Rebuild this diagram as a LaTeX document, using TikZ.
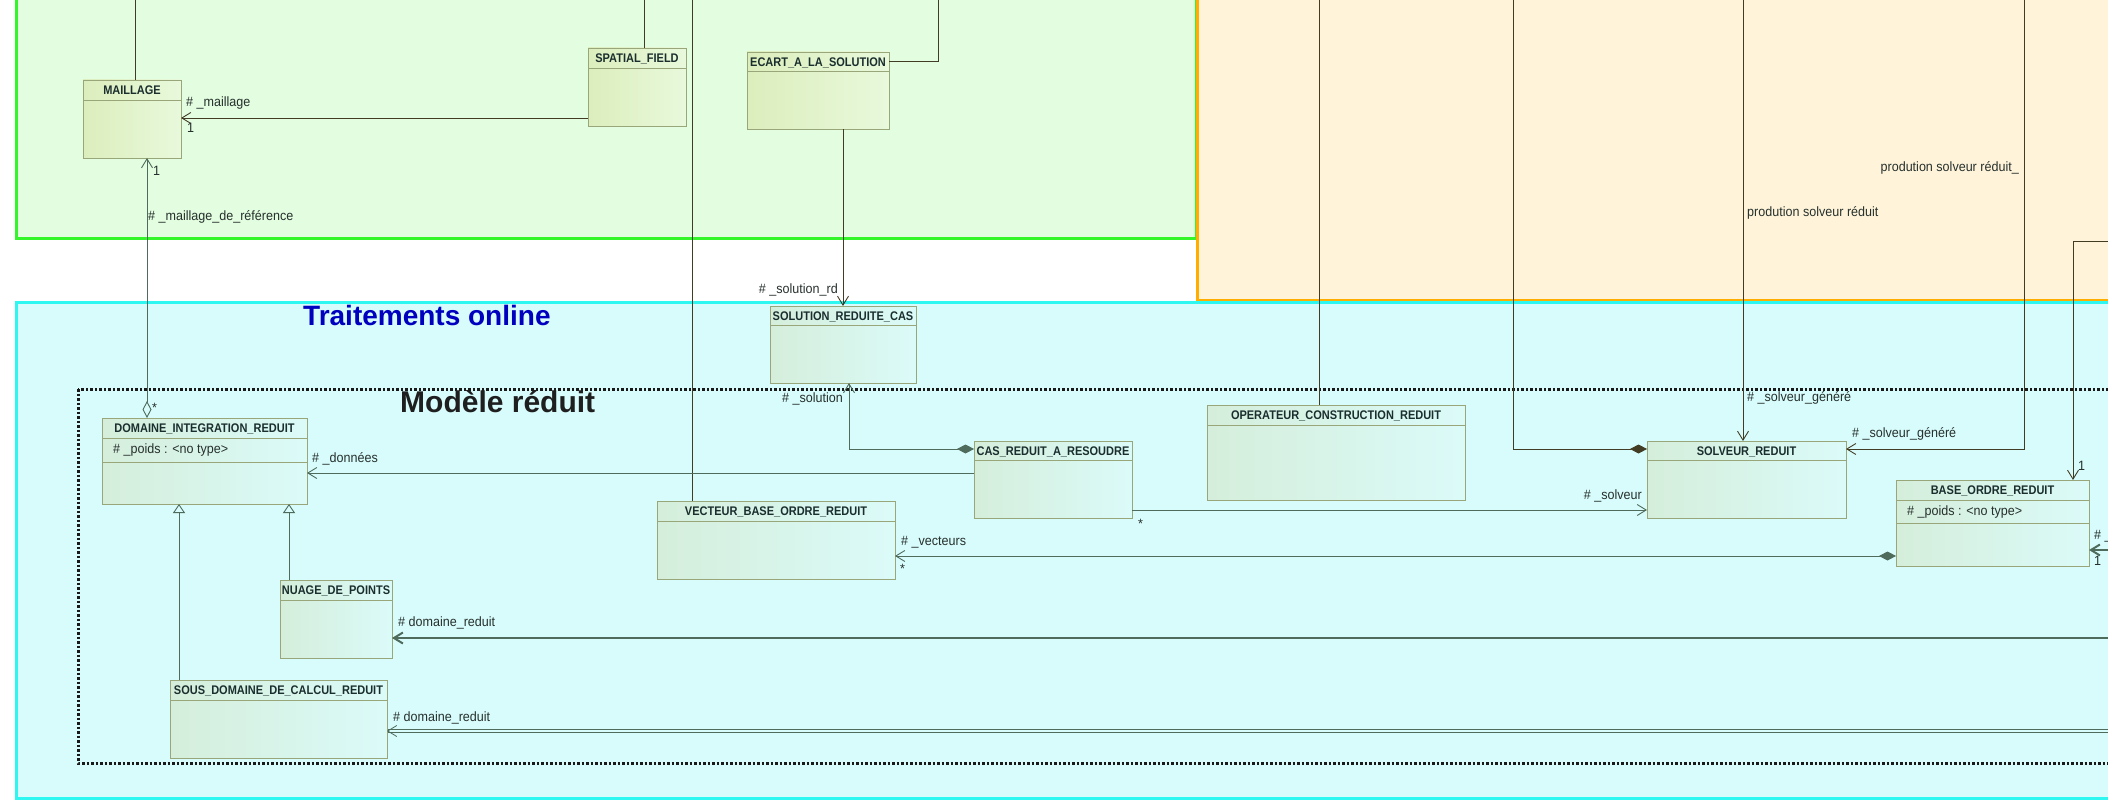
\documentclass[tikz,border=0pt]{standalone}
\usepackage{fontspec}
\setmainfont{Liberation Sans}
\newfontfamily\umlfont{Liberation Sans}[FakeStretch=0.88]
\newfontfamily\rolefont{Liberation Sans}[FakeStretch=0.93]
\usepackage{tikz}
\usetikzlibrary{arrows.meta, positioning}

\definecolor{offlinefill}{HTML}{E3FDE0}
\definecolor{offlineedge}{HTML}{33F52A}
\definecolor{prodfill}{HTML}{FFF4DA}
\definecolor{prodedge}{HTML}{FFAE00}
\definecolor{onlinefill}{HTML}{D8FCFC}
\definecolor{onlineedge}{HTML}{2EF7F2}
\definecolor{boxGL}{HTML}{DCEEBC}
\definecolor{boxGR}{HTML}{E8F9DC}
\definecolor{boxCL}{HTML}{D5EEDB}
\definecolor{boxCR}{HTML}{DBFBF9}
\definecolor{boxedge}{HTML}{98A67A}
\definecolor{nametext}{HTML}{1A2E2E}
\definecolor{roletext}{HTML}{26302C}
\definecolor{linkC}{HTML}{4E6B5C}
\definecolor{linkG}{HTML}{433C24}
\definecolor{titleblue}{HTML}{0000BE}

\begin{document}
\begin{tikzpicture}[x=1pt, y=-1pt, >={Straight Barb[length=9pt,width=11pt]},
    classbox/.style={anchor=north west, inner sep=0pt, outer sep=0pt, draw=boxedge, line width=0.9pt},
    offline/.style={classbox, left color=boxGL, right color=boxGR},
    online/.style={classbox, left color=boxCL, right color=boxCR},
    compartment/.style={draw=boxedge, line width=0.9pt},
    classname/.style={font=\umlfont\bfseries\fontsize{12.5}{14}\selectfont, text=nametext,
                      inner sep=0pt, text height=9pt, text depth=2.5pt},
    role/.style={font=\rolefont\fontsize{13.5}{15}\selectfont, text=roletext, inner sep=0pt},
    link/.style={draw=linkC, line width=0.9pt},
    toplink/.style={draw=linkG, line width=0.9pt}]
  \clip (0,0) rectangle (2108,810);

  % Packages
  \fill[offlinefill] (16,-20) rectangle (1196,239);
  \draw[offlineedge, line width=3pt] (16,-20) rectangle (1196,239);
  \fill[prodfill] (1197,-20) rectangle (2130,300);
  \draw[prodedge, line width=3pt] (1197,-20) rectangle (2130,300);
  \fill[onlinefill] (16,302) rectangle (2130,798);
  \draw[onlineedge, line width=3pt] (16,302) rectangle (2130,798);
  \node[font=\bfseries\fontsize{28}{30}\selectfont, text=titleblue, inner sep=0pt, anchor=base west]
    (online-title) at (303,325) {Traitements online};
  \draw[black!90, line width=3pt, dash pattern=on 2.5pt off 2pt] (78,389) rectangle (2130,763);
  \node[font=\bfseries\fontsize{30}{32}\selectfont, text=black!88, inner sep=0pt, anchor=base west]
    (model-title) at (400,412) {Modèle réduit};

  % Classes
  \node[offline, minimum width=98, minimum height=78] (maillage) at (83,80) {};
  \node[offline, minimum width=98, minimum height=78] (spatial) at (588,48) {};
  \node[offline, minimum width=142, minimum height=77] (ecart) at (747,52) {};
  \node[online, minimum width=146, minimum height=77] (solrd) at (770,306) {};
  \node[online, minimum width=205, minimum height=86] (domint) at (102,418) {};
  \node[online, minimum width=112, minimum height=78] (nuage) at (280,580) {};
  \node[online, minimum width=217, minimum height=78] (sousdom) at (170,680) {};
  \node[online, minimum width=238, minimum height=78] (vecteur) at (657,501) {};
  \node[online, minimum width=158, minimum height=77] (casred) at (974,441) {};
  \node[online, minimum width=258, minimum height=95] (operat) at (1207,405) {};
  \node[online, minimum width=199, minimum height=77] (solveur) at (1647,441) {};
  \node[online, minimum width=193, minimum height=86] (baseord) at (1896,480) {};

  \node[classname, below=5pt of maillage.north] (maillage-n) {MAILLAGE};
  \node[classname, below=5pt of spatial.north] (spatial-n) {SPATIAL\_FIELD};
  \node[classname, below=5pt of ecart.north] (ecart-n) {ECART\_A\_LA\_SOLUTION};
  \node[classname, below=5pt of solrd.north] (solrd-n) {SOLUTION\_REDUITE\_CAS};
  \node[classname, below=5pt of domint.north] (domint-n) {DOMAINE\_INTEGRATION\_REDUIT};
  \node[classname, below=5pt of nuage.north] (nuage-n) {NUAGE\_DE\_POINTS};
  \node[classname, below=5pt of sousdom.north] (sousdom-n) {SOUS\_DOMAINE\_DE\_CALCUL\_REDUIT};
  \node[classname, below=5pt of vecteur.north] (vecteur-n) {VECTEUR\_BASE\_ORDRE\_REDUIT};
  \node[classname, below=5pt of casred.north] (casred-n) {CAS\_REDUIT\_A\_RESOUDRE};
  \node[classname, below=5pt of operat.north] (operat-n) {OPERATEUR\_CONSTRUCTION\_REDUIT};
  \node[classname, below=5pt of solveur.north] (solveur-n) {SOLVEUR\_REDUIT};
  \node[classname, below=5pt of baseord.north] (baseord-n) {BASE\_ORDRE\_REDUIT};

  \draw[compartment] ([yshift=-20pt]maillage.north west) -- ([yshift=-20pt]maillage.north east);
  \draw[compartment] ([yshift=-20pt]spatial.north west) -- ([yshift=-20pt]spatial.north east);
  \draw[compartment] ([yshift=-19pt]ecart.north west) -- ([yshift=-19pt]ecart.north east);
  \draw[compartment] ([yshift=-19pt]solrd.north west) -- ([yshift=-19pt]solrd.north east);
  \draw[compartment] ([yshift=-20pt]domint.north west) -- ([yshift=-20pt]domint.north east);
  \draw[compartment] ([yshift=-44pt]domint.north west) -- ([yshift=-44pt]domint.north east);
  \draw[compartment] ([yshift=-20pt]nuage.north west) -- ([yshift=-20pt]nuage.north east);
  \draw[compartment] ([yshift=-20pt]sousdom.north west) -- ([yshift=-20pt]sousdom.north east);
  \draw[compartment] ([yshift=-20pt]vecteur.north west) -- ([yshift=-20pt]vecteur.north east);
  \draw[compartment] ([yshift=-19pt]casred.north west) -- ([yshift=-19pt]casred.north east);
  \draw[compartment] ([yshift=-20pt]operat.north west) -- ([yshift=-20pt]operat.north east);
  \draw[compartment] ([yshift=-19pt]solveur.north west) -- ([yshift=-19pt]solveur.north east);
  \draw[compartment] ([yshift=-20pt]baseord.north west) -- ([yshift=-20pt]baseord.north east);
  \draw[compartment] ([yshift=-43pt]baseord.north west) -- ([yshift=-43pt]baseord.north east);

  \node[role, anchor=base west] (domint-a) at ([xshift=11pt, yshift=-35pt]domint.north west) {\# \_poids : <no type>};
  \node[role, anchor=base west] (baseord-a) at ([xshift=11pt, yshift=-35pt]baseord.north west) {\# \_poids : <no type>};

  % Free ends of the links leaving the picture
  \coordinate (out-maillage) at (135,0);
  \coordinate (out-spatial) at (644,0);
  \coordinate (out-vecteur) at (692,0);
  \coordinate (out-ecart) at (938,0);
  \coordinate (out-operat) at (1319,0);
  \coordinate (out-compose) at (1513,0);
  \coordinate (out-prod) at (1743,0);
  \coordinate (out-prod2) at (2024,0);
  \coordinate (out-base) at (2130,241);
  \coordinate (out-base2) at (2130,550);
  \coordinate (out-nuage) at (2130,638);
  \coordinate (out-sousdom) at (2130,731);

  % Links
  \draw[toplink] (out-maillage) -- (out-maillage |- maillage.north);
  \draw[toplink] (out-spatial) -- (out-spatial |- spatial.north);
  \draw[toplink] (out-vecteur) -- (out-vecteur |- vecteur.north);
  \draw[toplink] (ecart.east |- 0,61) -| (out-ecart);
  \draw[toplink, <-] (maillage.east |- 0,118) -- (spatial.west |- 0,118);
  \draw[toplink, ->] (ecart.south -| 843,0) -- (solrd.north -| 843,0);
  \draw[link, <-{Diamond[open,length=17pt,width=9pt]}] (maillage.south -| 147,0) -- (domint.north -| 147,0);
  \draw[link, <-{Diamond[length=17pt,width=9pt]}] (solrd.south -| 849,0) |- (casred.west |- 0,449);
  \draw[link, <-] (domint.east |- 0,473) -- (casred.west |- 0,473);
  \draw[link, ->] (casred.east |- 0,510) -- (solveur.west |- 0,510);
  \draw[link, <-{Diamond[length=17pt,width=9pt]}] (vecteur.east |- 0,556) -- (baseord.west |- 0,556);
  \draw[link, -{Triangle[open,length=9pt,width=12pt]}] (sousdom.north -| 179,0) -- (domint.south -| 179,0);
  \draw[link, -{Triangle[open,length=9pt,width=12pt]}] (nuage.north -| 289,0) -- (domint.south -| 289,0);
  \draw[toplink] (out-operat) -- (out-operat |- operat.north);
  \draw[toplink, -{Diamond[length=17pt,width=9pt]}] (out-compose) |- (solveur.west |- 0,449);
  \draw[toplink, ->] (out-prod) -- (out-prod |- solveur.north);
  \draw[toplink, ->] (out-prod2) |- (solveur.east |- 0,449);
  \draw[toplink, ->] (out-base) -| (baseord.north -| 2073,0);
  \draw[link, line width=2pt, ->] (out-base2) -- (baseord.east |- 0,550);
  \draw[link, line width=2pt, ->] (out-nuage) -- (nuage.east |- 0,638);
  \draw[link, line width=0.8pt, double=onlinefill, double distance=1.6pt, ->] (out-sousdom) -- (sousdom.east |- 0,731);

  % Roles and multiplicities
  \node[role, anchor=base west] (r-maillage) at (186,107) {\# \_maillage};
  \node[role, anchor=base west] (m-maillage) at (187,133) {1};
  \node[role, anchor=base west] (m-maillage-ref) at (153,176) {1};
  \node[role, anchor=base west] (r-maillage-ref) at (148,221) {\# \_maillage\_de\_référence};
  \node[role, anchor=base east] (r-solrd) at (838,293) {\# \_solution\_rd};
  \node[role, anchor=base east] (r-solution) at (843,402) {\# \_solution};
  \node[role, anchor=base west] (m-domint) at (152,412) {*};
  \node[role, anchor=base west] (r-donnees) at (312,462) {\# \_données};
  \node[role, anchor=base west] (r-vecteurs) at (901,545) {\# \_vecteurs};
  \node[role, anchor=base west] (m-vecteurs) at (900,573) {*};
  \node[role, anchor=base west] (m-casred) at (1138,528) {*};
  \node[role, anchor=base east] (r-solveur) at (1642,499) {\# \_solveur};
  \node[role, anchor=base west] (r-genere) at (1747,401) {\# \_solveur\_généré};
  \node[role, anchor=base west] (r-genere2) at (1852,437) {\# \_solveur\_généré};
  \node[role, anchor=base west] (r-prod) at (1747,217) {prodution solveur réduit};
  \node[role, anchor=base east] (r-prod2) at (2019,172) {prodution solveur réduit\_};
  \node[role, anchor=base west] (m-baseord) at (2078,470) {1};
  \node[role, anchor=base west] (r-base2) at (2094,539) {\# \_};
  \node[role, anchor=base west] (m-base2) at (2094,565) {1};
  \node[role, anchor=base west] (r-nuage) at (398,626) {\# domaine\_reduit};
  \node[role, anchor=base west] (r-sousdom) at (393,721) {\# domaine\_reduit};
\end{tikzpicture}
\end{document}
